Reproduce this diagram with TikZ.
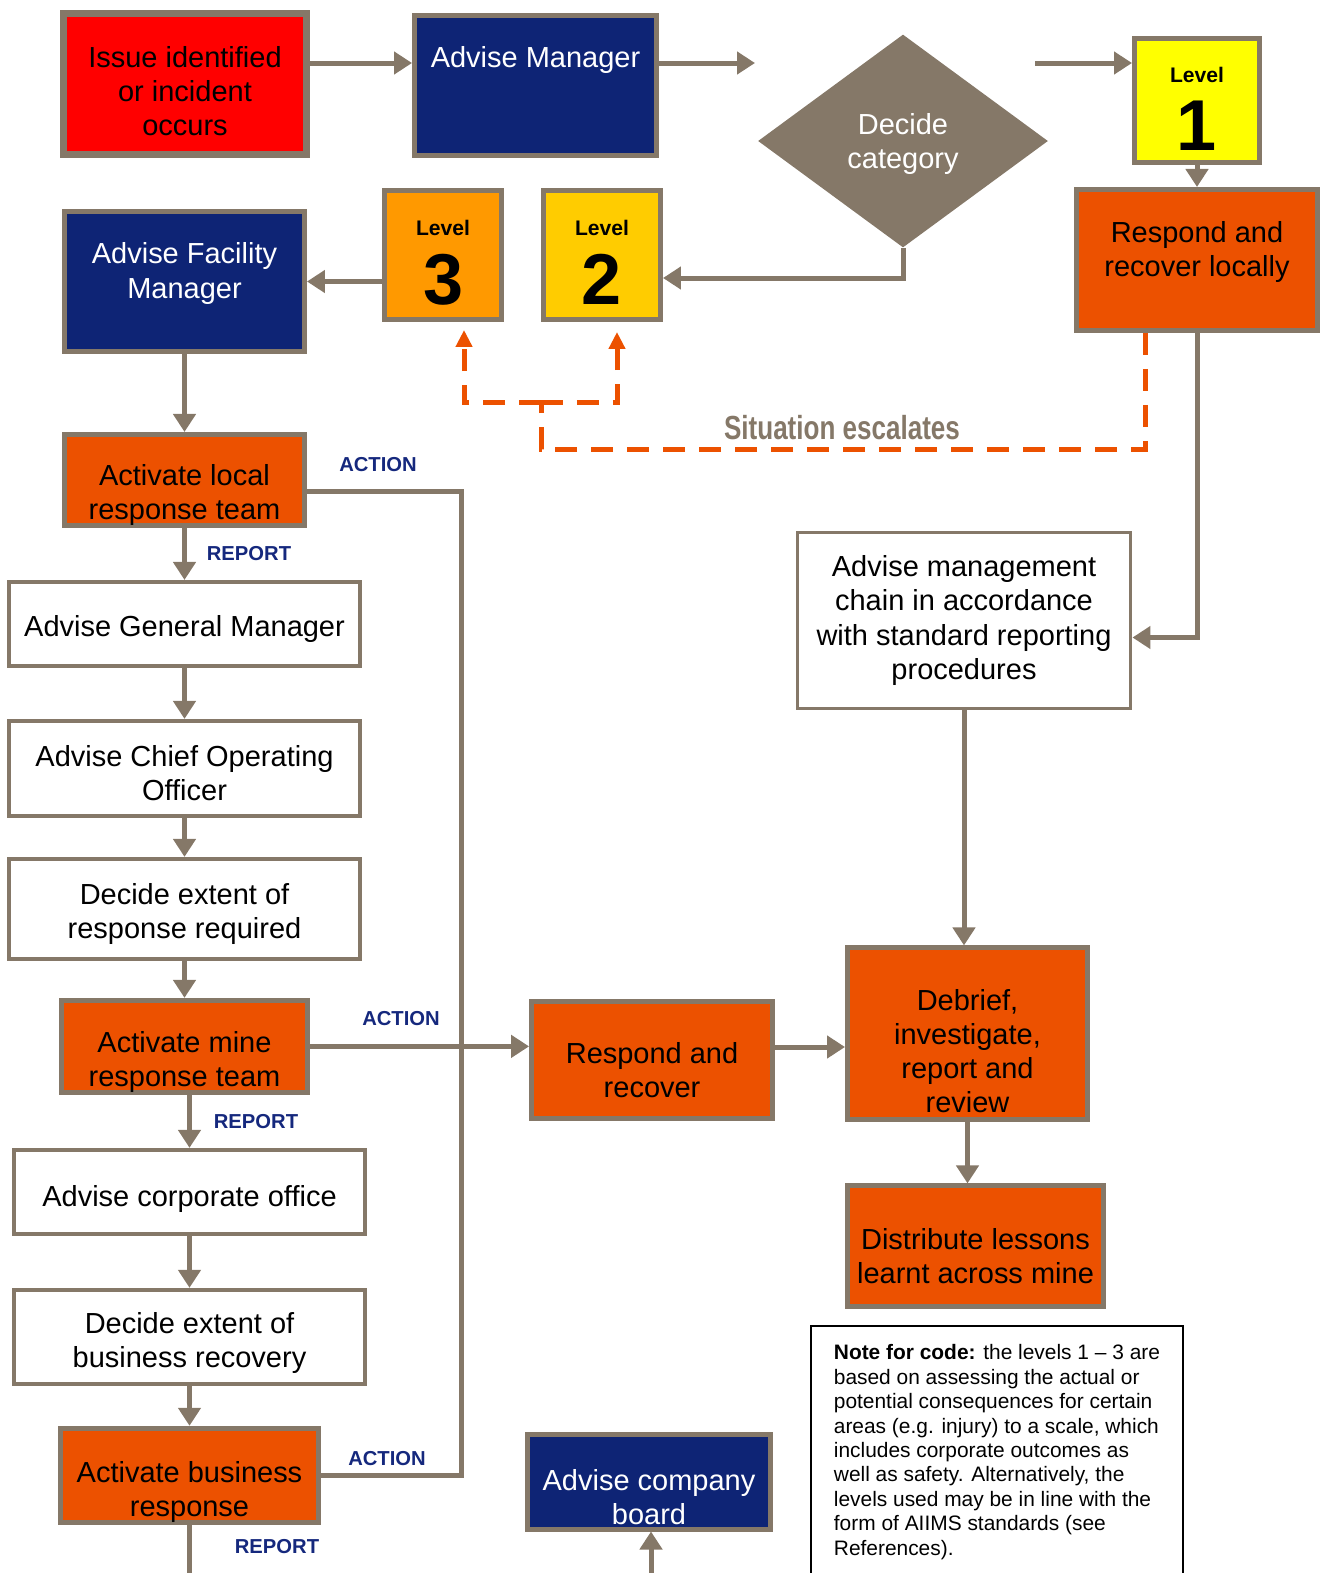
\documentclass[tikz,border=0pt]{standalone}
\usepackage{fontspec}
\setmainfont{Liberation Sans}
\usetikzlibrary{positioning,shapes.geometric,arrows.meta}

\definecolor{framegray}{RGB}{133,120,104}
\definecolor{alarmred}{RGB}{255,0,0}
\definecolor{deepnavy}{RGB}{14,36,117}
\definecolor{burnt}{RGB}{236,81,0}
\definecolor{amber}{RGB}{255,153,0}
\definecolor{gold}{RGB}{255,204,0}
\definecolor{lemon}{RGB}{255,255,0}
\definecolor{tagblue}{RGB}{21,40,125}

\begin{document}
\begin{tikzpicture}[x=0.02cm, y=-0.02cm,
    box/.style={rectangle, draw=framegray, line width=0.1cm, align=center, inner sep=0pt, font=\fontsize{16.5}{19.4}\selectfont},
    alarm/.style={box, fill=alarmred, line width=0.15cm},
    navy/.style={box, fill=deepnavy, text=white},
    action/.style={box, fill=burnt},
    plain/.style={box, fill=white, line width=0.08cm, minimum width=7.02cm},
    level/.style={box, minimum width=2.34cm, minimum height=2.58cm, text height=2cm, font=\bfseries},
    choice/.style={diamond, fill=framegray, text=white, align=center, inner sep=0pt, minimum width=5.8cm, minimum height=4.26cm, font=\fontsize{16.5}{19.4}\selectfont},
    tag/.style={text=tagblue, font=\fontsize{11.5}{13}\selectfont\bfseries},
    note/.style={rectangle, draw=black, line width=0.04cm, align=left, anchor=north west, inner xsep=0.4cm, inner ysep=0.28cm, minimum width=7.44cm, minimum height=5.4cm, font=\fontsize{11.9}{13.9}\selectfont},
    arr/.style={draw=framegray, line width=0.1cm, -{Triangle[length=0.36cm, width=0.44cm]}},
    bus/.style={draw=framegray, line width=0.1cm},
    esc/.style={draw=burnt, line width=0.1cm, dash pattern=on 0.44cm off 0.28cm},
    escarr/.style={esc, -{Triangle[length=0.34cm, width=0.32cm]}}]

\useasboundingbox (0,0) rectangle (1332,1573);

% Top row
\node[alarm, minimum width=4.86cm, minimum height=2.82cm, text height=2.08cm] (issue) at (185,84) {Issue identified\\or incident\\occurs};
\node[navy, minimum width=4.84cm, minimum height=2.8cm, text depth=1.16cm] (advmgr) at (535.5,85.5) {Advise Manager};
\node[choice, text height=1.24cm] (category) at (903,141) {Decide\\category};
\node[level, fill=lemon, minimum width=2.5cm, minimum height=2.48cm, text height=2.02cm] (lvl1) at (1197,100.5) {\fontsize{12}{14}\selectfont Level\\[0.34cm]\fontsize{41}{46}\selectfont 1};
\node[action, minimum width=4.82cm, minimum height=2.82cm, text depth=0.44cm, below=0.44cm of lvl1] (localrec) {Respond and\\recover locally};

% Level row
\node[level, fill=gold] (lvl2) at (602,255) {\fontsize{12}{14}\selectfont Level\\[0.34cm]\fontsize{41}{46}\selectfont 2};
\node[level, fill=amber, left=0.74cm of lvl2] (lvl3) {\fontsize{12}{14}\selectfont Level\\[0.34cm]\fontsize{41}{46}\selectfont 3};
\node[navy, minimum width=4.8cm, minimum height=2.8cm, text depth=0.44cm] (facility) at (184.5,281.5) {Advise Facility\\Manager};

% Left column
\node[action, minimum width=4.82cm, minimum height=1.82cm, text height=1.7cm, below=1.56cm of facility] (localteam) {Activate local\\response team};
\node[plain, minimum height=1.68cm, text height=0.62cm, below=1.04cm of localteam] (genmgr) {Advise General Manager};
\node[plain, minimum height=1.9cm, text height=1.3cm, below=1.02cm of genmgr] (coo) {Advise Chief Operating\\Officer};
\node[plain, minimum height=2cm, text height=1.3cm, below=0.78cm of coo] (extent) {Decide extent of\\response required};
\node[action, minimum width=4.94cm, minimum height=1.84cm, text height=1.72cm, below=0.74cm of extent] (mineteam) {Activate mine\\response team};
\node[plain, minimum width=7.04cm, minimum height=1.68cm, text height=0.7cm, below=1.06cm of mineteam, xshift=0.1cm] (corporate) {Advise corporate office};
\node[plain, minimum width=7.04cm, minimum height=1.88cm, text height=1.34cm, below=1.04cm of corporate] (busrec) {Decide extent of\\business recovery};
\node[action, minimum width=5.16cm, minimum height=1.88cm, text height=1.76cm, below=0.8cm of busrec] (busresp) {Activate business\\response};

% Right side
\node[plain, minimum width=6.68cm, minimum height=3.54cm, line width=0.06cm, text depth=0.12cm] (mgmt) at (964,620.5) {Advise management\\chain in accordance\\with standard reporting\\procedures};
\node[action, minimum width=4.8cm, minimum height=3.44cm, text height=3.14cm, below=4.7cm of mgmt, xshift=0.07cm] (debrief) {Debrief,\\investigate,\\report and\\review};
\node[action, minimum width=4.82cm, minimum height=2.34cm, text height=1.5cm, left=1.4cm of debrief, yshift=-0.53cm] (recover) {Respond and\\recover};
\node[action, minimum width=5.12cm, minimum height=2.42cm, text height=1.5cm, below=1.22cm of debrief, xshift=0.16cm] (lessons) {Distribute lessons\\learnt across mine};
\node[navy, minimum width=4.86cm, minimum height=1.9cm, text height=1.74cm] (board) at (649,1481.5) {Advise company\\board};
\node[note, text depth=0.44cm] (codenote) at (810,1325) {\textbf{Note for code:} the levels 1 – 3 are\\based on assessing the actual or\\potential consequences for certain\\areas (e.g. injury) to a scale, which\\includes corporate outcomes as\\well as safety. Alternatively, the\\levels used may be in line with the\\form of AIIMS standards (see\\References).};

% Labels
\node[tag] (actlocal) at (378,465) {ACTION};
\node[tag] (replocal) at (249,554) {REPORT};
\node[tag] (actmine) at (401,1019) {ACTION};
\node[tag] (repmine) at (256,1122) {REPORT};
\node[tag] (actbus) at (387,1459) {ACTION};
\node[tag] (repbus) at (277,1547) {REPORT};
\node[text=framegray, font=\fontsize{19}{22}\selectfont\bfseries] (escalate) at (842,428) {\scalebox{0.78}[1]{Situation escalates}};

% Connections
\coordinate (topline) at (0,63);
\coordinate (gapL) at (755,63);
\coordinate (gapR) at (1035,63);
\draw[arr] (issue.east |- topline) -- (advmgr.west |- topline);
\draw[arr] (advmgr.east |- topline) -- (gapL);
\draw[arr] (gapR) -- (lvl1.west |- topline);
\draw[arr] (lvl1) -- (localrec);
\draw[arr] (category.south) |- ([yshift=-0.46cm]lvl2.east);
\draw[arr] (lvl3.west |- facility.east) -- (facility.east);
\draw[arr] (facility.south) -- (facility.south |- localteam.north);
\draw[arr] (localteam.south) -- (localteam.south |- genmgr.north);
\draw[arr] (genmgr) -- (coo);
\draw[arr] (coo) -- (extent);
\draw[arr] (extent.south) -- (extent.south |- mineteam.north);
\draw[arr] (corporate.north |- mineteam.south) -- (corporate.north);
\draw[arr] (corporate) -- (busrec);
\draw[arr] (busrec.south) -- (busrec.south |- busresp.north);

% Action bus
\coordinate (busline) at (461,0);
\draw[bus] ([yshift=-0.24cm]localteam.east) -| (busline |- busresp.east) -- (busresp.east);
\draw[arr] (mineteam.east) -- (mineteam.east -| recover.west);

% Free ends at the bottom
\coordinate (repout) at (191.5,1590);
\coordinate (boardin) at (651,1590);
\draw[bus] (busresp.south) -- (busresp.south |- repout);
\draw[arr] (boardin) -- (boardin |- board.south);

% Right flows
\coordinate (midline) at (0,1047);
\draw[arr] (localrec.south) |- ([yshift=-0.34cm]mgmt.east);
\draw[arr] (mgmt.south) -- (mgmt.south |- debrief.north);
\draw[arr] (recover.east |- midline) -- (debrief.west |- midline);
\draw[arr] (debrief.south) -- (debrief.south |- lessons.north);

% Escalation
\coordinate (escjoin) at (541,402);
\coordinate (escbase) at (0,449);
\draw[esc] ([xshift=-1.04cm]localrec.south) |- (escjoin |- escbase) -- (escjoin);
\draw[escarr] (escjoin) -| ([xshift=0.42cm,yshift=-0.16cm]lvl3.south);
\draw[escarr] (escjoin) -| ([xshift=0.3cm,yshift=-0.2cm]lvl2.south);

\end{tikzpicture}
\end{document}
